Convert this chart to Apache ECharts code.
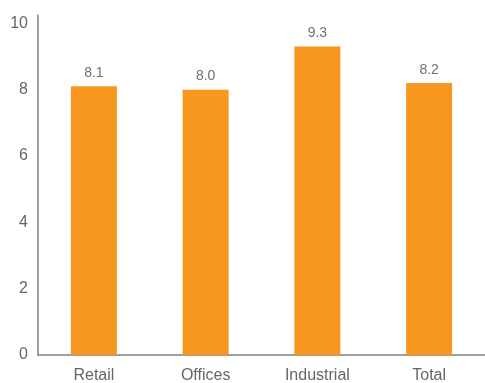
<!DOCTYPE html>
<html>
<head>
<meta charset="utf-8">
<script src="https://cdn.jsdelivr.net/npm/echarts@6/dist/echarts.min.js"></script>
<style>
  html, body { margin: 0; padding: 0; background: #fff; }
  #main { width: 485px; height: 383px; }
</style>
</head>
<body>
<div id="main"></div>
<script>
  // 分类与数值
  var categories = ['Retail', 'Offices', 'Industrial', 'Total'];
  var values = [8.1, 8.0, 9.3, 8.2];
  var yTicks = [0, 2, 4, 6, 8, 10];

  var myChart = echarts.init(document.getElementById('main'));
  var option = {
    animation: false,
    textStyle: { fontFamily: 'Liberation Sans, Arial, sans-serif' },
    grid: { left: 38, right: 0, top: 15, bottom: 28, outerBoundsMode: 'none' },
    xAxis: {
      type: 'category',
      data: categories,
      axisLine: { lineStyle: { color: '#808080', width: 1.5 } },
      axisTick: { show: false },
      axisLabel: { color: '#666', fontSize: 16, margin: 13 }
    },
    yAxis: {
      type: 'value',
      min: yTicks[0],
      max: 10.25, // 轴线略高于 10
      interval: 2,
      splitLine: { show: false },
      axisTick: { show: false },
      axisLine: { show: true, lineStyle: { color: '#808080', width: 1.5 } },
      axisLabel: {
        color: '#666', fontSize: 16, margin: 10,
        showMaxLabel: false,
        padding: [0, 0, 3, 0]
      }
    },
    series: [{
      type: 'bar',
      data: values,
      barWidth: 46,
      itemStyle: { color: '#F7971F' },
      label: {
        show: true,
        position: 'top',
        distance: 6,
        color: '#707070',
        fontSize: 14,
        formatter: function (p) { return p.value.toFixed(1); }
      }
    }]
  };
  myChart.setOption(option);
  window.addEventListener('resize', () => { myChart.resize(); });
</script>
</body>
</html>
